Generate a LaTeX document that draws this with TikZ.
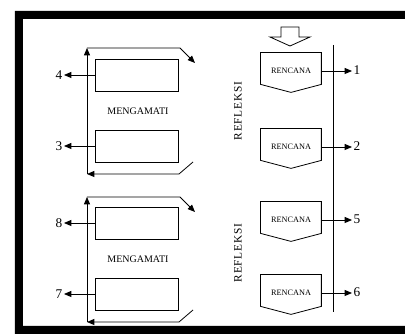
\documentclass[tikz,border=0pt]{standalone}
\usepackage{fontspec}
\setmainfont{Liberation Serif}
\usetikzlibrary{arrows.meta,calc}
\newcommand{\lspc}{\kern0.6pt}
\begin{document}
\begin{tikzpicture}[x=0.75pt,y=-0.75pt,
  line width=0.6pt,
  tipar/.style={-{Triangle[length=5.5pt,width=4.5pt]}},
  obsbox/.style={draw,minimum width=62.25pt,minimum height=24pt,inner sep=0pt},
  plan/.style={minimum width=45pt,minimum height=23.25pt,inner sep=0pt,font=\fontsize{6.2}{7}\selectfont},
  numlbl/.style={inner sep=1pt,font=\fontsize{10}{12}\selectfont},
  obslbl/.style={font=\fontsize{7.5}{9}\selectfont},
  refl/.style={rotate=90,font=\fontsize{8.5}{10}\selectfont}]
\useasboundingbox (0,0) rectangle (405,334);
% frame
\fill[black,even odd rule] (15,11) rectangle (420,345) (23,19) rectangle (420,326);

% left loops
\foreach \k/\t/\ra/\rb/\la/\lb/\bt in {A/48/75/146/4/3/174, B/197/223/294/8/7/322}{
  \node[obsbox] (\k1) at (136.5,\ra) {};
  \node[obsbox] (\k2) at (136.5,\rb) {};
  \node[numlbl,anchor=east] (\k n1) at (64,\ra) {\la};
  \node[numlbl,anchor=east] (\k n2) at (64,\rb) {\lb};
  \draw[tipar] (\k1.west) -- (\k n1.east);
  \draw[tipar] (\k2.west) -- (\k n2.east);
  \coordinate (\k tl) at (87,\t);
  \coordinate (\k bl) at (87,\bt);
  \coordinate (\k tr) at (180,\t);
  \coordinate (\k br) at (179,\bt);
  \coordinate (\k te) at (195,\t+15);
  \coordinate (\k bs) at (193,\bt-12);
  \draw[tipar] (\k bl) -- (\k tl);
  \draw[tipar] (\k tl) -- (\k tr) -- (\k te);
  \draw[tipar] (\k bs) -- (\k br) -- (\k bl);
}
\node[obslbl] (m1) at (138,111) {MENGAMATI};
\node[obslbl] (m2) at (138,259) {MENGAMATI};

% right column
\coordinate (vt) at (333,45);
\coordinate (vb) at (333,312);
\draw (vt) -- (vb);
\draw (281,27) -- (299,27) -- (299,37) -- (310,37) -- (290,46) -- (270,37) -- (281,37) -- cycle;
\foreach \k/\t/\l in {1/71/1, 2/147/2, 3/220/5, 4/293/6}{
  \node[plan] (r\k) at (291,\t-2.5) {};
  \node[plan,minimum height=0pt] (rt\k) at (291,\t) {RENCANA};
  \draw (r\k.north west) -- (r\k.north east) -- (r\k.south east) -- ($(r\k.south)+(0,8)$) -- (r\k.south west) -- cycle;
  \node[numlbl,anchor=west] (n\k) at (352,\t-1) {\l};
  \draw[tipar] (r\k.east |- rt\k) -- (n\k.west |- rt\k);
}
\node[refl] (f1) at (238,111) {R\lspc E\lspc F\lspc L\lspc E\lspc K\lspc S\lspc I};
\node[refl] (f2) at (238,253) {R\lspc E\lspc F\lspc L\lspc E\lspc K\lspc S\lspc I};
\end{tikzpicture}
\end{document}
